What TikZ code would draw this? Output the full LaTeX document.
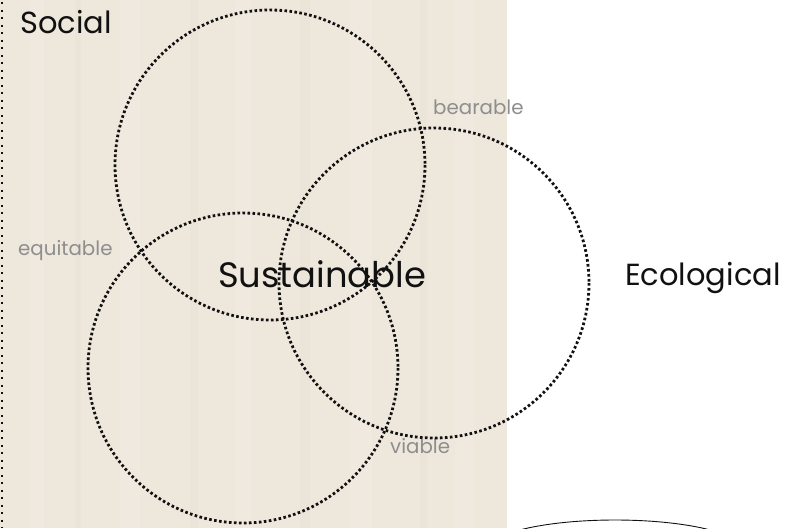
\documentclass[tikz,border=0pt]{standalone}
\usepackage{fontspec}
\setmainfont{Poppins}
\definecolor{wood}{HTML}{EEE7DC}
\definecolor{woodlight}{HTML}{F3EEE6}
\definecolor{wooddark}{HTML}{E8DFD1}
\definecolor{labelgray}{HTML}{8E8E8E}
\definecolor{ink}{HTML}{111111}
\begin{document}
\begin{tikzpicture}[x=1pt,y=-1pt,
  ring/.style={draw=ink,line width=2.8pt,line cap=butt,dash pattern=on 2.6pt off 2.4pt},
  edgedots/.style={draw=ink,line width=2.4pt,line cap=butt,dash pattern=on 2.4pt off 5.1pt},
  bigword/.style={anchor=base west,inner sep=0pt,text=ink,font=\fontsize{30.5}{36}\selectfont},
  centreword/.style={anchor=base west,inner sep=0pt,text=ink,font=\fontsize{35.3}{42}\selectfont},
  smallword/.style={anchor=base west,inner sep=0pt,text=labelgray,font=\fontsize{19.8}{24}\selectfont}]
\useasboundingbox (0,0) rectangle (786,528);
% white page and the wooden panel on the left
\fill[white] (0,0) rectangle (786,528);
\fill[wood] (0,0) rectangle (507,528);
% faint grain in the panel
\foreach \x/\w/\c in {30/14/woodlight,75/6/wooddark,120/20/woodlight,190/8/wooddark,235/16/woodlight,300/10/wooddark,350/22/woodlight,420/7/wooddark,455/18/woodlight}
  \fill[\c,opacity=0.35] (\x,0) rectangle ({\x+\w},528);
\draw[edgedots] (2,2) -- (2,528);
% labels
\node[bigword] (social) at (20,33) {Social};
\node[bigword] (eco) at (625,285) {Ecological};
\node[centreword] (sust) at (218,287) {Sustainable};
\node[smallword] (bear) at (433,114) {bearable};
\node[smallword] (equi) at (18,255) {equitable};
\node[smallword] (viab) at (390,453) {viable};
% the three overlapping circles
\draw[ring] (270,165) circle (155);
\draw[ring] (434,283) circle (155);
\draw[ring] (243,368) circle (155);
% outline peeking in at the lower edge
\begin{scope}
  \clip (0,0) rectangle (786,528);
  \draw[ink,line width=0.9pt] (615,550) ellipse (128 and 30);
\end{scope}
\end{tikzpicture}
\end{document}
